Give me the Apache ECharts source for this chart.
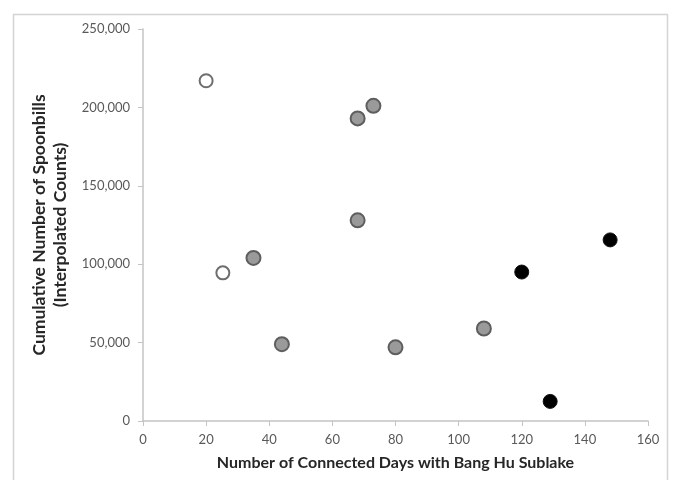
<!DOCTYPE html>
<html>
<head>
<meta charset="utf-8">
<script src="https://cdn.jsdelivr.net/npm/echarts@6/dist/echarts.min.js"></script>
<style>html,body{margin:0;padding:0;background:#fff;}#c{width:675px;height:480px;}</style>
</head>
<body>
<div id="c"></div>
<script>
// Open circles
const openX = [20, 25.3];
const openY = [217000, 94500];
// Gray circles
const grayX = [35, 44, 68, 73, 68, 80, 108];
const grayY = [104000, 49000, 193000, 201000, 128000, 47000, 59000];
// Black circles
const blackX = [120, 129, 148];
const blackY = [95000, 12500, 115500];

const xTicks = [0, 20, 40, 60, 80, 100, 120, 140, 160];
const yTicks = [0, 50000, 100000, 150000, 200000, 250000];

const xTitle = 'Number of Connected Days with Bang Hu Sublake';
const yTitle = 'Cumulative Number of Spoonbills\n(Interpolated Counts)';

function pairs(xs, ys) { return xs.map((x, i) => [x, ys[i]]); }

const font = 'Lato, "Open Sans", sans-serif';
const chart = echarts.init(document.getElementById('c'), null, {renderer: 'canvas'});
chart.setOption({
  animation: false,
  backgroundColor: '#fff',
  graphic: [{
    type: 'rect', silent: true, z: -1,
    shape: {x: 13.5, y: 14.5, width: 654, height: 480},
    style: {fill: 'none', stroke: '#d4d4d4', lineWidth: 1.5}
  }],
  grid: {left: 143, right: 27, top: 29, bottom: 59, containLabel: false},
  xAxis: {
    type: 'value', min: 0, max: 160, interval: 20,
    name: xTitle, nameLocation: 'middle', nameGap: 34,
    nameTextStyle: {fontFamily: font, fontWeight: 'bold', fontSize: 16, color: '#262626'},
    axisLine: {show: true, lineStyle: {color: '#c4c4c4', width: 1.5}},
    axisTick: {show: true, length: 5, lineStyle: {color: '#c4c4c4'}},
    axisLabel: {margin: 12, fontFamily: font, fontSize: 13, color: '#595959'},
    splitLine: {show: false}
  },
  yAxis: {
    type: 'value', min: 0, max: 250000, interval: 50000,
    name: yTitle, nameLocation: 'middle', nameGap: 65, nameRotate: 90,
    nameTextStyle: {fontFamily: font, fontWeight: 'bold', fontSize: 17.5, color: '#262626', lineHeight: 21},
    axisLine: {show: true, lineStyle: {color: '#c4c4c4', width: 1.5}},
    axisTick: {show: true, length: 5, lineStyle: {color: '#c4c4c4'}},
    axisLabel: {margin: 13, fontFamily: font, fontSize: 13, color: '#595959',
      formatter: v => v.toLocaleString('en-US')},
    splitLine: {show: false}
  },
  series: [
    {type: 'scatter', data: pairs(openX, openY), symbolSize: 13,
      itemStyle: {color: '#fff', borderColor: '#6e6e6e', borderWidth: 2, opacity: 1}},
    {type: 'scatter', data: pairs(grayX, grayY), symbolSize: 14,
      itemStyle: {color: '#9a9a9a', borderColor: '#5e5e5e', borderWidth: 2, opacity: 1}},
    {type: 'scatter', data: pairs(blackX, blackY), symbolSize: 14,
      itemStyle: {color: '#000', borderColor: '#111', borderWidth: 1, opacity: 1}}
  ]
});
</script>
</body>
</html>
